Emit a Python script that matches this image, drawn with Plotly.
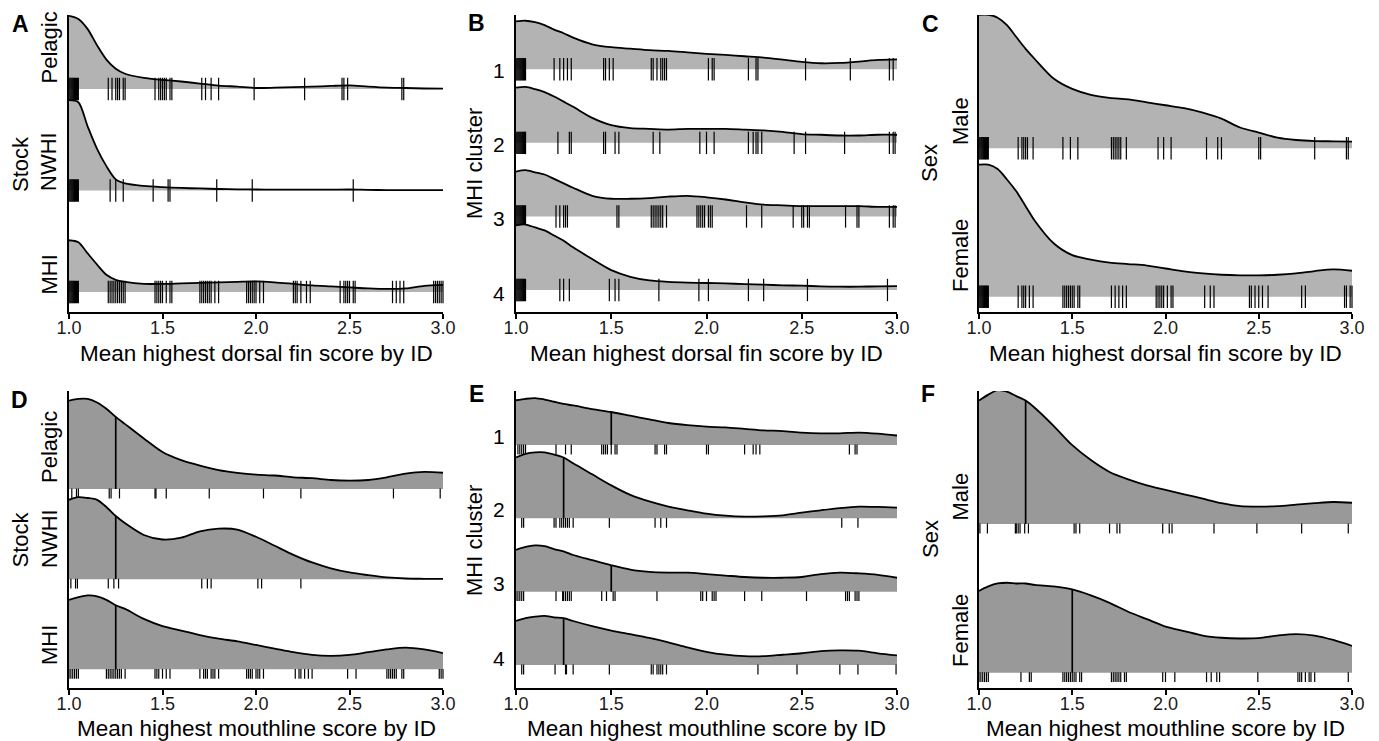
import numpy as np
import plotly.graph_objects as go

# ---------------- DATA ----------------
GRID = [1.0, 1.05, 1.1, 1.15, 1.2, 1.25, 1.3, 1.4, 1.5, 1.6, 1.7, 1.8, 1.9,
        2.0, 2.1, 2.2, 2.3, 2.4, 2.5, 2.6, 2.7, 2.8, 2.9, 3.0]
X_TICKS = [1.0, 1.5, 2.0, 2.5, 3.0]
X_TICKTEXT = ["1.0", "1.5", "2.0", "2.5", "3.0"]

STOCK_CATS = ["Pelagic", "NWHI", "MHI"]          # top to bottom
CLUSTER_CATS = ["1", "2", "3", "4"]
SEX_CATS = ["Male", "Female"]

# densities (scaled, in units of ridge spacing)
A_PELAGIC = [0.72, 0.69, 0.59, 0.43, 0.29, 0.20, 0.15, 0.11, 0.09, 0.074, 0.054, 0.034, 0.023,
             0.010, 0.013, 0.018, 0.023, 0.030, 0.036, 0.023, 0.013, 0.010, 0.005, 0.003]
A_NWHI = [0.89, 0.87, 0.63, 0.41, 0.24, 0.11, 0.07, 0.045, 0.033, 0.025, 0.020, 0.015, 0.012,
          0.010, 0.008, 0.008, 0.008, 0.008, 0.010, 0.006, 0.004, 0.003, 0.003, 0.003]
A_MHI = [0.51, 0.49, 0.38, 0.27, 0.17, 0.12, 0.10, 0.08, 0.08, 0.085, 0.09, 0.095, 0.10,
         0.105, 0.095, 0.08, 0.065, 0.055, 0.045, 0.035, 0.03, 0.035, 0.06, 0.07]

B_1 = [0.65, 0.66, 0.64, 0.60, 0.54, 0.49, 0.43, 0.34, 0.30, 0.28, 0.26, 0.25, 0.23,
       0.21, 0.195, 0.177, 0.159, 0.13, 0.10, 0.082, 0.086, 0.104, 0.127, 0.136]
B_2 = [0.75, 0.76, 0.73, 0.69, 0.63, 0.56, 0.49, 0.34, 0.24, 0.20, 0.19, 0.18, 0.19,
       0.19, 0.19, 0.18, 0.17, 0.15, 0.12, 0.11, 0.10, 0.10, 0.11, 0.11]
B_3 = [0.61, 0.63, 0.60, 0.57, 0.51, 0.45, 0.39, 0.28, 0.24, 0.24, 0.25, 0.27, 0.28,
       0.26, 0.23, 0.19, 0.16, 0.15, 0.14, 0.14, 0.14, 0.14, 0.13, 0.13]
B_4 = [0.88, 0.89, 0.85, 0.81, 0.74, 0.67, 0.58, 0.42, 0.27, 0.18, 0.13, 0.11, 0.10,
       0.095, 0.09, 0.08, 0.073, 0.063, 0.059, 0.05, 0.045, 0.045, 0.05, 0.054]

C_MALE = [0.90, 0.90, 0.88, 0.83, 0.75, 0.67, 0.60, 0.47, 0.40, 0.36, 0.34, 0.33, 0.31,
          0.29, 0.27, 0.24, 0.20, 0.14, 0.106, 0.072, 0.056, 0.049, 0.047, 0.045]
C_FEMALE = [0.89, 0.89, 0.86, 0.79, 0.71, 0.61, 0.51, 0.36, 0.28, 0.25, 0.23, 0.22, 0.21,
            0.19, 0.17, 0.157, 0.148, 0.144, 0.144, 0.148, 0.157, 0.173, 0.184, 0.175]

D_PELAGIC = [0.98, 1.00, 1.00, 0.96, 0.89, 0.80, 0.72, 0.56, 0.41, 0.32, 0.26, 0.21, 0.18,
             0.16, 0.15, 0.13, 0.12, 0.10, 0.093, 0.10, 0.13, 0.17, 0.19, 0.18]
D_NWHI = [0.88, 0.91, 0.90, 0.88, 0.80, 0.70, 0.62, 0.49, 0.44, 0.46, 0.53, 0.56, 0.55,
          0.47, 0.37, 0.27, 0.185, 0.12, 0.074, 0.044, 0.019, 0.007, 0.004, 0.002]
D_MHI = [0.77, 0.80, 0.82, 0.81, 0.77, 0.71, 0.67, 0.56, 0.48, 0.43, 0.38, 0.34, 0.31,
         0.27, 0.23, 0.19, 0.16, 0.15, 0.16, 0.19, 0.22, 0.24, 0.22, 0.18]

E_1 = [0.61, 0.63, 0.64, 0.62, 0.59, 0.56, 0.54, 0.49, 0.45, 0.40, 0.35, 0.30, 0.27,
       0.25, 0.24, 0.22, 0.20, 0.19, 0.17, 0.16, 0.16, 0.17, 0.155, 0.13]
E_2 = [0.83, 0.88, 0.90, 0.90, 0.87, 0.83, 0.75, 0.60, 0.45, 0.32, 0.23, 0.16, 0.11,
       0.064, 0.036, 0.023, 0.027, 0.041, 0.077, 0.11, 0.14, 0.16, 0.155, 0.145]
E_3 = [0.57, 0.61, 0.63, 0.62, 0.58, 0.55, 0.50, 0.43, 0.36, 0.30, 0.27, 0.26, 0.26,
       0.24, 0.22, 0.20, 0.19, 0.19, 0.20, 0.24, 0.26, 0.25, 0.23, 0.19]
E_4 = [0.60, 0.64, 0.66, 0.67, 0.65, 0.64, 0.60, 0.53, 0.47, 0.42, 0.37, 0.31, 0.24,
       0.18, 0.14, 0.12, 0.12, 0.14, 0.16, 0.19, 0.20, 0.195, 0.16, 0.13]

F_MALE = [0.83, 0.87, 0.90, 0.89, 0.86, 0.83, 0.78, 0.66, 0.53, 0.43, 0.35, 0.30, 0.26,
          0.23, 0.20, 0.17, 0.14, 0.12, 0.117, 0.12, 0.13, 0.14, 0.148, 0.143]
F_FEMALE = [0.55, 0.58, 0.60, 0.605, 0.60, 0.60, 0.59, 0.58, 0.56, 0.52, 0.47, 0.41, 0.36,
            0.31, 0.28, 0.25, 0.235, 0.23, 0.233, 0.25, 0.26, 0.25, 0.22, 0.18]

# rug observations
BLOCK = [1.0, 1.005, 1.01, 1.015, 1.02, 1.025, 1.03, 1.035, 1.04, 1.045, 1.05]
RUG_A_PELAGIC = BLOCK + [1.21, 1.23, 1.25, 1.26, 1.27, 1.29, 1.30, 1.46, 1.48, 1.49, 1.50,
                         1.51, 1.52, 1.54, 1.55, 1.71, 1.73, 1.76, 1.80, 1.99, 2.26, 2.46,
                         2.47, 2.49, 2.78, 2.79]
RUG_A_NWHI = BLOCK + [1.22, 1.25, 1.29, 1.45, 1.53, 1.54, 1.79, 1.98, 2.52]
RUG_A_MHI = BLOCK + [1.21, 1.22, 1.23, 1.24, 1.25, 1.26, 1.27, 1.28, 1.29, 1.30, 1.46, 1.47,
                     1.48, 1.49, 1.50, 1.52, 1.54, 1.55, 1.70, 1.71, 1.72, 1.73, 1.74, 1.75,
                     1.76, 1.78, 1.80, 1.95, 1.96, 1.97, 1.98, 1.99, 2.00, 2.02, 2.04, 2.20,
                     2.21, 2.22, 2.24, 2.27, 2.29, 2.45, 2.47, 2.48, 2.49, 2.50, 2.52, 2.53,
                     2.73, 2.75, 2.77, 2.79, 2.95, 2.96, 2.97, 2.98, 2.99, 3.0]
RUG_B_1 = BLOCK + [1.20, 1.23, 1.25, 1.27, 1.29, 1.46, 1.47, 1.49, 1.51, 1.71, 1.72, 1.74,
                   1.76, 1.77, 1.78, 1.79, 2.01, 2.03, 2.04, 2.22, 2.26, 2.27, 2.52, 2.755,
                   2.96, 2.98]
RUG_B_2 = BLOCK + [1.22, 1.28, 1.29, 1.46, 1.47, 1.52, 1.54, 1.72, 1.755, 1.965, 2.00, 2.04,
                   2.22, 2.245, 2.26, 2.27, 2.29, 2.46, 2.52, 2.725, 2.96, 2.98, 2.99]
RUG_B_3 = BLOCK + [1.21, 1.23, 1.25, 1.26, 1.27, 1.53, 1.54, 1.71, 1.72, 1.73, 1.74, 1.75,
                   1.76, 1.77, 1.79, 1.95, 1.96, 1.97, 1.98, 1.99, 2.01, 2.02, 2.03, 2.21,
                   2.29, 2.455, 2.50, 2.51, 2.53, 2.54, 2.73, 2.79, 2.80, 2.96, 2.98, 2.99]
RUG_B_4 = BLOCK + [1.23, 1.25, 1.28, 1.49, 1.52, 1.54, 1.75, 1.96, 2.01, 2.22, 2.30, 2.53, 2.95]
RUG_C_MALE = BLOCK + [1.21, 1.23, 1.24, 1.25, 1.26, 1.29, 1.45, 1.49, 1.53, 1.71, 1.72, 1.73,
                      1.74, 1.75, 1.76, 1.79, 1.96, 1.99, 2.03, 2.22, 2.28, 2.30, 2.50, 2.51,
                      2.80, 2.97, 2.98]
RUG_C_FEMALE = BLOCK + [1.21, 1.23, 1.24, 1.25, 1.27, 1.29, 1.45, 1.46, 1.47, 1.48, 1.49,
                        1.50, 1.51, 1.53, 1.54, 1.71, 1.73, 1.75, 1.77, 1.79, 1.95, 1.96,
                        1.97, 1.98, 1.99, 2.01, 2.03, 2.04, 2.21, 2.24, 2.26, 2.45, 2.46,
                        2.48, 2.50, 2.52, 2.55, 2.73, 2.75, 2.96, 2.97, 2.99, 3.0]
RUG_D_PELAGIC = [1.015, 1.04, 1.05, 1.215, 1.225, 1.27, 1.46, 1.465, 1.52, 1.75, 2.04, 2.24,
                 2.735, 2.985]
RUG_D_NWHI = [1.01, 1.035, 1.045, 1.21, 1.24, 1.265, 1.71, 1.74, 1.76, 2.01, 2.03, 2.24]
RUG_D_MHI = [1.0, 1.01, 1.02, 1.03, 1.04, 1.05, 1.20, 1.21, 1.22, 1.23, 1.24, 1.25, 1.26,
             1.27, 1.28, 1.30, 1.46, 1.47, 1.48, 1.50, 1.52, 1.54, 1.70, 1.72, 1.73, 1.74,
             1.76, 1.77, 1.78, 1.80, 1.95, 1.96, 1.97, 1.98, 2.00, 2.01, 2.02, 2.04, 2.21,
             2.23, 2.24, 2.26, 2.28, 2.30, 2.49, 2.535, 2.70, 2.71, 2.72, 2.73, 2.74, 2.75,
             2.78, 2.79, 2.98, 2.99, 3.0]
RUG_E_1 = [1.01, 1.02, 1.03, 1.04, 1.05, 1.21, 1.26, 1.29, 1.45, 1.46, 1.47, 1.48, 1.50,
           1.52, 1.53, 1.73, 1.74, 1.78, 1.79, 2.00, 2.01, 2.20, 2.245, 2.26, 2.28, 2.75,
           2.78, 2.79]
RUG_E_2 = [1.03, 1.04, 1.20, 1.21, 1.23, 1.24, 1.25, 1.26, 1.27, 1.28, 1.30, 1.49, 1.73,
           1.76, 1.79, 2.71, 2.795]
RUG_E_3 = [1.0, 1.01, 1.02, 1.03, 1.04, 1.21, 1.245, 1.25, 1.26, 1.27, 1.28, 1.29, 1.45,
           1.475, 1.51, 1.52, 1.74, 1.97, 1.98, 2.00, 2.03, 2.04, 2.05, 2.20, 2.29, 2.525,
           2.73, 2.74, 2.75, 2.78, 2.79, 2.80]
RUG_E_4 = [1.03, 1.04, 1.205, 1.26, 1.265, 1.30, 1.49, 1.71, 1.72, 1.74, 1.75, 1.76, 1.77,
           1.79, 2.27, 2.475, 2.70, 2.795, 2.995]
RUG_F_MALE = [1.005, 1.045, 1.195, 1.20, 1.21, 1.22, 1.245, 1.265, 1.51, 1.52, 1.54, 1.70,
              1.74, 1.755, 1.985, 2.02, 2.035, 2.26, 2.49, 2.73, 2.98]
RUG_F_FEMALE = [1.0, 1.01, 1.02, 1.03, 1.04, 1.05, 1.225, 1.27, 1.28, 1.45, 1.46, 1.47,
                1.48, 1.49, 1.50, 1.51, 1.52, 1.54, 1.55, 1.71, 1.72, 1.73, 1.74, 1.75,
                1.76, 1.78, 1.79, 1.985, 2.00, 2.05, 2.22, 2.245, 2.275, 2.29, 2.495, 2.71,
                2.72, 2.73, 2.75, 2.77, 2.78, 2.80, 2.98]

# medians (bottom row)
D_MEDIANS = [1.25, 1.25, 1.25]
E_MEDIANS = [1.5, 1.25, 1.5, 1.25]
F_MEDIANS = [1.25, 1.5]

DORSAL_TITLE = "Mean highest dorsal fin score by ID"
MOUTH_TITLE = "Mean highest mouthline score by ID"

# ---------------- LAYOUT / STYLE ----------------
W, H = 1379, 741
OFF = 8  # page body margin: figure starts 8 px right / down of the window corner
FONT = "Liberation Sans, Arial, sans-serif"
TOP_FILL = "#b3b3b3"
BOT_FILL = "#999999"


def px(xp):
    return (xp - OFF) / W


def py(yp):
    return 1 - (yp - OFF) / H


panels = [
    dict(letter="A", ytitle="Stock", cats=STOCK_CATS, dens=[A_PELAGIC, A_NWHI, A_MHI],
         rugs=[RUG_A_PELAGIC, RUG_A_NWHI, RUG_A_MHI], med=None, xtitle=DORSAL_TITLE,
         x0=69, x1=443, ytop=15, ybot=312, bbase=292, sp=101.5, rot=True,
         lab_x=49, lab_y=[47.5, 162, 274.5], let_xy=(20, 23.5), yt_xy=(20, 164), xt_y=353),
    dict(letter="B", ytitle="MHI cluster", cats=CLUSTER_CATS, dens=[B_1, B_2, B_3, B_4],
         rugs=[RUG_B_1, RUG_B_2, RUG_B_3, RUG_B_4], med=None, xtitle=DORSAL_TITLE,
         x0=516, x1=897, ytop=15, ybot=312, bbase=290, sp=73.57, rot=False,
         lab_x=499, lab_y=[70, 145, 218, 293], let_xy=(476, 22.5), yt_xy=(474, 164), xt_y=353),
    dict(letter="C", ytitle="Sex", cats=SEX_CATS, dens=[C_MALE, C_FEMALE],
         rugs=[RUG_C_MALE, RUG_C_FEMALE], med=None, xtitle=DORSAL_TITLE,
         x0=979, x1=1352, ytop=15, ybot=312, bbase=296.7, sp=148.4, rot=True,
         lab_x=960, lab_y=[121, 256], let_xy=(930, 23.5), yt_xy=(930, 163), xt_y=353),
    dict(letter="D", ytitle="Stock", cats=STOCK_CATS, dens=[D_PELAGIC, D_NWHI, D_MHI],
         rugs=[RUG_D_PELAGIC, RUG_D_NWHI, RUG_D_MHI], med=D_MEDIANS, xtitle=MOUTH_TITLE,
         x0=69, x1=443, ytop=391, ybot=688, bbase=669.3, sp=90.15, rot=True,
         lab_x=49, lab_y=[447, 539, 645], let_xy=(19, 400), yt_xy=(20, 539.5), xt_y=728),
    dict(letter="E", ytitle="MHI cluster", cats=CLUSTER_CATS, dens=[E_1, E_2, E_3, E_4],
         rugs=[RUG_E_1, RUG_E_2, RUG_E_3, RUG_E_4], med=E_MEDIANS, xtitle=MOUTH_TITLE,
         x0=516, x1=897, ytop=391, ybot=688, bbase=665, sp=73.33, rot=False,
         lab_x=499, lab_y=[436.7, 510, 583.3, 658.3], let_xy=(476, 394), yt_xy=(474, 541), xt_y=728),
    dict(letter="F", ytitle="Sex", cats=SEX_CATS, dens=[F_MALE, F_FEMALE],
         rugs=[RUG_F_MALE, RUG_F_FEMALE], med=F_MEDIANS, xtitle=MOUTH_TITLE,
         x0=979, x1=1352, ytop=391, ybot=688, bbase=672.7, sp=148.7, rot=True,
         lab_x=960, lab_y=[496.5, 631], let_xy=(928, 394), yt_xy=(930, 539), xt_y=728),
]

fig = go.Figure()
annotations = []
layout_axes = {}

for k, p in enumerate(panels, start=1):
    xa = "x" if k == 1 else f"x{k}"
    ya = "y" if k == 1 else f"y{k}"
    n = len(p["cats"])
    bottom_row = p["med"] is not None
    fill = BOT_FILL if bottom_row else TOP_FILL
    sp = p["sp"]
    for i in range(n):  # top ridge first, lower ridges drawn over it
        base = n - 1 - i
        dens = np.array(p["dens"][i])
        fig.add_trace(go.Scatter(x=[GRID[0], GRID[-1]], y=[base, base], mode="lines",
                                 line=dict(width=0, color=fill), hoverinfo="skip",
                                 xaxis=xa, yaxis=ya, showlegend=False))
        fig.add_trace(go.Scatter(x=GRID, y=base + dens, mode="lines", fill="tonexty",
                                 fillcolor=fill,
                                 line=dict(color="black", width=1.8, shape="spline", smoothing=0.8),
                                 xaxis=xa, yaxis=ya, showlegend=False, hoverinfo="skip"))
        rug = p["rugs"][i]
        if bottom_row:
            m = p["med"][i]
            fig.add_trace(go.Scatter(x=[m, m], y=[base, base + np.interp(m, GRID, dens)],
                                     mode="lines", line=dict(color="black", width=1.7),
                                     xaxis=xa, yaxis=ya, showlegend=False, hoverinfo="skip"))
            ry = base - 4.5 / sp
            size = 7
        else:
            ry = base
            size = 16
        fig.add_trace(go.Scatter(x=rug, y=[ry] * len(rug), mode="markers",
                                 marker=dict(symbol="line-ns", size=size, color="black",
                                             line=dict(color="black", width=1.2)),
                                 xaxis=xa, yaxis=ya, showlegend=False, hoverinfo="skip",
                                 cliponaxis=False))

    yr = [-(p["ybot"] - p["bbase"]) / sp, (p["bbase"] - p["ytop"]) / sp]
    layout_axes["xaxis" if k == 1 else f"xaxis{k}"] = dict(
        domain=[px(p["x0"]), px(p["x1"])], anchor=ya, range=[1.0, 3.0],
        tickvals=X_TICKS, ticktext=X_TICKTEXT, showline=True, linecolor="black",
        linewidth=1.8, ticks="outside", ticklen=5, tickwidth=1.5, tickcolor="black",
        ticklabelstandoff=-7,
        showgrid=False, zeroline=False, tickfont=dict(size=18, color="#1a1a1a", family=FONT),
        fixedrange=True, automargin=False)
    layout_axes["yaxis" if k == 1 else f"yaxis{k}"] = dict(
        domain=[py(p["ybot"]), py(p["ytop"])], anchor=xa, range=yr,
        showline=True, linecolor="black", linewidth=1.8, showticklabels=False,
        ticks="", showgrid=False, zeroline=False, fixedrange=True, automargin=False)

    # panel letter
    annotations.append(dict(text=f"<b>{p['letter']}</b>", x=px(p["let_xy"][0]), y=py(p["let_xy"][1]),
                            xref="paper", yref="paper", xanchor="center", yanchor="middle",
                            showarrow=False, font=dict(size=23, family=FONT, color="black")))
    # y title
    annotations.append(dict(text=p["ytitle"], x=px(p["yt_xy"][0]), y=py(p["yt_xy"][1]),
                            xref="paper", yref="paper", xanchor="center", yanchor="middle",
                            textangle=-90, showarrow=False,
                            font=dict(size=22, family=FONT, color="black")))
    # category labels
    for cat, ly in zip(p["cats"], p["lab_y"]):
        annotations.append(dict(text=cat, x=px(p["lab_x"]), y=py(ly), xref="paper", yref="paper",
                                xanchor="center", yanchor="middle",
                                textangle=-90 if p["rot"] else 0, showarrow=False,
                                font=dict(size=22 if p["rot"] else 21, family=FONT, color="black")))
    # x title
    annotations.append(dict(text=p["xtitle"], x=px((p["x0"] + p["x1"]) / 2), y=py(p["xt_y"]),
                            xref="paper", yref="paper", xanchor="center", yanchor="middle",
                            showarrow=False, font=dict(size=22.5, family=FONT, color="black")))

fig.update_layout(width=W, height=H,
                  margin=dict(l=0, r=0, t=0, b=0, pad=0, autoexpand=False),
                  plot_bgcolor="white", paper_bgcolor="white", showlegend=False,
                  font=dict(family=FONT, color="black"), annotations=annotations,
                  **layout_axes)

fig.write_html("out.html")
